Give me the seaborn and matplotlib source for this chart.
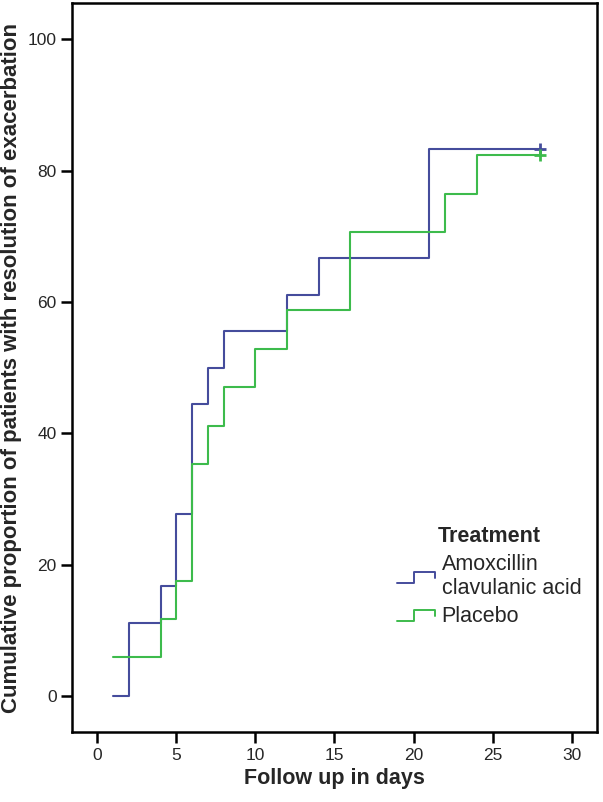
import matplotlib
matplotlib.use("Agg")
import matplotlib.pyplot as plt
import seaborn as sns
import pandas as pd
from matplotlib.legend_handler import HandlerBase
from matplotlib.lines import Line2D

# Kaplan-Meier style cumulative curves (percent resolved)
amox_days = [1, 2, 4, 5, 6, 7, 8, 12, 14, 21, 28]
amox_pct = [0.0, 11.1, 16.7, 27.8, 44.4, 50.0, 55.6, 61.1, 66.7, 83.3, 83.3]
plac_days = [1, 4, 5, 6, 7, 8, 10, 12, 16, 22, 24, 28]
plac_pct = [5.9, 11.8, 17.6, 35.3, 41.2, 47.1, 52.9, 58.8, 70.6, 76.5, 82.4, 82.4]
groups = ["Amoxcillin\nclavulanic acid", "Placebo"]
colors = ["#454c9c", "#3dbb4c"]

df = pd.concat([
    pd.DataFrame({"day": amox_days, "pct": amox_pct, "group": groups[0]}),
    pd.DataFrame({"day": plac_days, "pct": plac_pct, "group": groups[1]}),
])

sns.set_style("ticks")
plt.rcParams["font.family"] = ["Liberation Sans", "DejaVu Sans"]

fig = plt.figure(figsize=(6.03, 8.02), dpi=100)
ax = fig.add_axes([0.1194, 0.087, 0.8706, 0.909])

for g, c in zip(groups, colors):
    sub = df[df.group == g]
    sns.lineplot(data=sub, x="day", y="pct", drawstyle="steps-post", color=c,
                 lw=1.5, ax=ax, legend=False, estimator=None, sort=False)
    # censored marker at end of follow-up
    ax.plot(sub.day.iloc[-1], sub.pct.iloc[-1], marker="+", ms=9, mew=2, color=c)

ax.set_xlim(-1.6, 31.6)
ax.set_ylim(-5.5, 105.5)
ax.set_xticks([0, 5, 10, 15, 20, 25, 30])
ax.set_yticks([0, 20, 40, 60, 80, 100])
for s in ax.spines.values():
    s.set_visible(True)
    s.set_linewidth(1.8)
    s.set_color("black")
ax.tick_params(length=8, width=1.8, labelsize=12.5, color="black", pad=3)
ax.set_xlabel("Follow up in days", fontsize=15.5, fontweight="bold", labelpad=4)
ax.set_ylabel("Cumulative proportion of patients with resolution of exacerbation",
              fontsize=16, fontweight="bold", labelpad=4)


class StepHandler(HandlerBase):
    def create_artists(self, legend, orig_handle, xdescent, ydescent,
                       width, height, fontsize, trans):
        x0 = -xdescent
        y0 = -ydescent
        xs = [x0, x0 + 0.45 * width, x0 + 0.45 * width, x0 + width, x0 + width]
        ys = [y0 + 0.1 * height, y0 + 0.1 * height, y0 + 0.85 * height,
              y0 + 0.85 * height, y0 + 0.45 * height]
        ln = Line2D(xs, ys, color=orig_handle.get_color(), lw=1.4, transform=trans)
        return [ln]


handles = [Line2D([], [], color=c) for c in colors]
leg = ax.legend(handles, groups, title="Treatment", loc="upper left",
                bbox_to_anchor=(0.583, 0.309), frameon=False, fontsize=15.5,
                title_fontproperties={"weight": "bold", "size": 15.5},
                handler_map={Line2D: StepHandler()}, handlelength=1.75,
                handletextpad=0.3, labelspacing=0.32)

fig.savefig("out.png", dpi=100)
